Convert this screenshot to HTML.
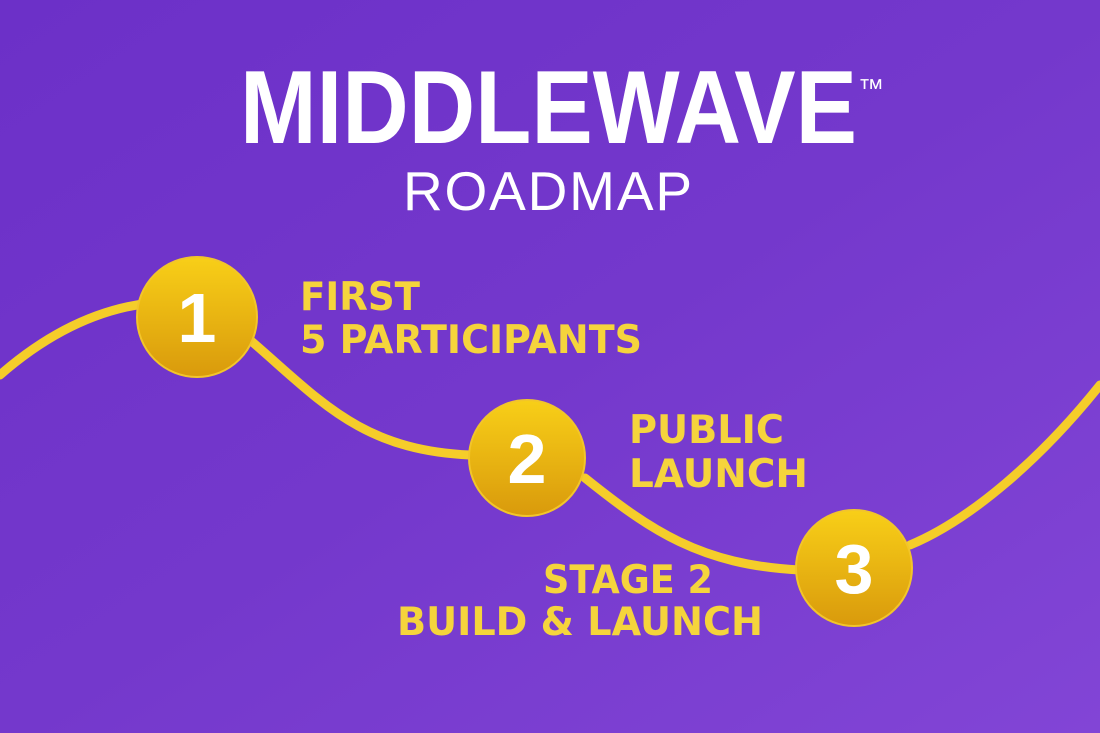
<!DOCTYPE html>
<html><head><meta charset="utf-8"><style>
html,body{margin:0;padding:0;width:1100px;height:733px;overflow:hidden}
</style></head><body>
<svg width="1100" height="733" viewBox="0 0 1100 733" xmlns="http://www.w3.org/2000/svg">
<defs>
<linearGradient id="bg" x1="0" y1="0" x2="1" y2="1">
<stop offset="0" stop-color="#6c30c8"/><stop offset="0.5" stop-color="#7438cc"/><stop offset="1" stop-color="#8245d6"/>
</linearGradient>
<linearGradient id="gc" x1="0" y1="0" x2="0" y2="1">
<stop offset="0" stop-color="#f8cf18"/><stop offset="1" stop-color="#d99a0c"/>
</linearGradient>
</defs>
<rect width="1100" height="733" fill="url(#bg)"/>
<path d="M0,375 C40,340 90,310 150,303 M250,340 C320,400 360,450 470,455 M585,478 C650,530 700,565 800,570 M910,545 C970,520 1040,460 1100,385" fill="none" stroke="#f5cd2a" stroke-width="9" stroke-linecap="round"/>
<g font-family="Liberation Sans, sans-serif" font-weight="bold" fill="#fff">
<text x="240" y="143" font-size="104" textLength="617" lengthAdjust="spacingAndGlyphs">MIDDLEWAVE</text>
<text x="858" y="97" font-size="26" font-weight="normal">™</text>
<text x="403" y="210" font-size="55" font-weight="normal" textLength="289" lengthAdjust="spacing">ROADMAP</text>
</g>
<g stroke="#f2c52a" stroke-width="2">
<circle cx="197" cy="317" r="60" fill="url(#gc)"/>
<circle cx="527" cy="458" r="58" fill="url(#gc)"/>
<circle cx="854" cy="568" r="58" fill="url(#gc)"/>
</g>
<g font-family="Liberation Sans, sans-serif" font-weight="bold" fill="#fff" font-size="70" text-anchor="middle">
<text x="197" y="342">1</text>
<text x="527" y="483">2</text>
<text x="854" y="593">3</text>
</g>
<g font-family="DejaVu Sans, sans-serif" font-weight="bold" fill="#f5d43c" font-size="39">
<text x="300" y="310" textLength="120" lengthAdjust="spacingAndGlyphs">FIRST</text>
<text x="300" y="353" textLength="342" lengthAdjust="spacingAndGlyphs">5 PARTICIPANTS</text>
<text x="629" y="443" textLength="155" lengthAdjust="spacingAndGlyphs">PUBLIC</text>
<text x="629" y="487" textLength="179" lengthAdjust="spacingAndGlyphs">LAUNCH</text>
<text x="543" y="593" textLength="170" lengthAdjust="spacingAndGlyphs">STAGE 2</text>
<text x="397" y="635" textLength="366" lengthAdjust="spacingAndGlyphs">BUILD &amp; LAUNCH</text>
</g>
</svg>
</body></html>
